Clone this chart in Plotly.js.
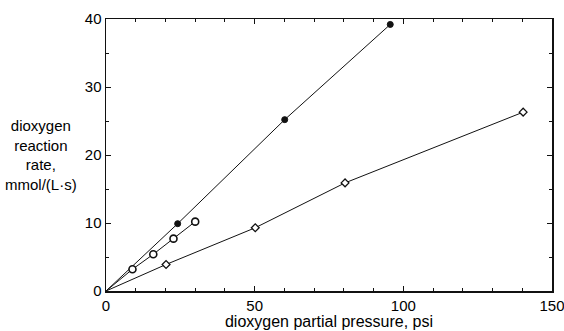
<!DOCTYPE html>
<html><head><meta charset="utf-8">
<script src="https://cdn.plot.ly/plotly-3.0.1.min.js"></script>
<style>html,body{margin:0;padding:0;background:#fff}#plot{width:564px;height:331px}</style>
</head><body><div id="plot"></div>
<script>
// Data (origin included as the start of each fitted line)
const filledX = [24.1, 60.1, 95.6];
const filledY = [9.9, 25.2, 39.2];
const circleX = [8.9, 15.9, 22.7, 30.0];
const circleY = [3.2, 5.4, 7.7, 10.2];
const diamondX = [20.2, 50.2, 80.4, 140.3];
const diamondY = [3.9, 9.3, 15.9, 26.3];
const xTicks = [0, 50, 100, 150];
const yTicks = [0, 10, 20, 30, 40];

const lineStyle = {color: '#111', width: 1};
function lineTrace(xs, ys) {
  return {x: [0].concat(xs), y: [0].concat(ys), mode: 'lines', line: lineStyle, hoverinfo: 'skip', showlegend: false};
}
const traces = [
  lineTrace(filledX, filledY),
  lineTrace(circleX, circleY),
  lineTrace(diamondX, diamondY),
  {x: filledX, y: filledY, mode: 'markers', showlegend: false,
   marker: {symbol: 'circle', size: 6, color: '#111', line: {color: '#111', width: 1}}},
  {x: circleX, y: circleY, mode: 'markers', showlegend: false,
   marker: {symbol: 'circle', size: 7, color: '#fff', line: {color: '#111', width: 1.6}}},
  {x: diamondX, y: diamondY, mode: 'markers', showlegend: false,
   marker: {symbol: 'diamond', size: 6, color: '#fff', line: {color: '#111', width: 1.3}}}
];

const fam = 'Liberation Sans, Arial, sans-serif';
const tickFont = {family: fam, size: 15, color: '#000'};
const layout = {
  width: 564, height: 331,
  margin: {l: 106, r: 12, t: 19, b: 40},
  paper_bgcolor: '#fff', plot_bgcolor: '#fff',
  font: tickFont,
  xaxis: {
    range: [0, 150], tickvals: xTicks, ticktext: xTicks.map(String),
    ticks: 'inside', ticklen: 5, tickwidth: 1, tickcolor: '#111',
    showline: true, linecolor: '#111', linewidth: 1.5, mirror: 'ticks',
    showgrid: false, zeroline: false, ticklabeloverflow: 'allow',
    minor: {dtick: 10, ticks: 'inside', ticklen: 3, tickcolor: '#111', tickwidth: 1, showgrid: false},
    title: {text: 'dioxygen partial pressure, psi', font: {family: fam, size: 16, color: '#000'}, standoff: 0},
    tickfont: tickFont, fixedrange: true
  },
  yaxis: {
    range: [0, 40], tickvals: yTicks, ticktext: yTicks.map(String),
    ticks: 'inside', ticklen: 5, tickwidth: 1, tickcolor: '#111',
    showline: true, linecolor: '#111', linewidth: 1.5, mirror: 'ticks',
    showgrid: false, zeroline: false, ticklabeloverflow: 'allow',
    minor: {dtick: 5, ticks: 'inside', ticklen: 3, tickcolor: '#111', tickwidth: 1, showgrid: false},
    tickfont: tickFont, fixedrange: true
  },
  annotations: [{
    xref: 'paper', yref: 'paper', x: -0.145, y: 0.5, xanchor: 'center', yanchor: 'middle',
    text: 'dioxygen<br>reaction<br>rate,<br>mmol/(L·s)', showarrow: false, align: 'center',
    font: {family: fam, size: 15, color: '#000'}
  }]
};
Plotly.newPlot('plot', traces, layout, {staticPlot: true});
</script></body></html>
